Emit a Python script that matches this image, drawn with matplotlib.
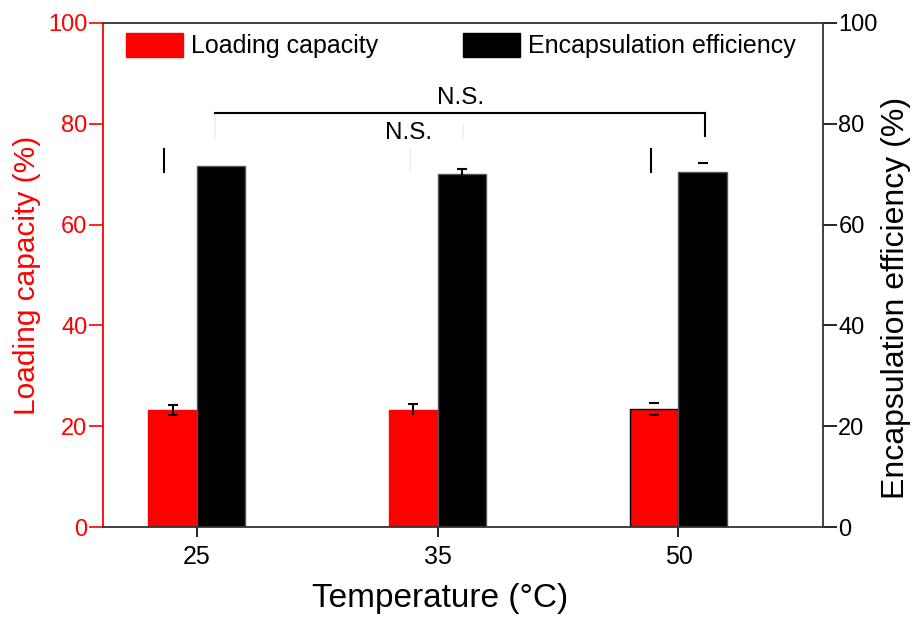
import matplotlib
matplotlib.use('Agg')
import matplotlib.pyplot as plt
import numpy as np
from matplotlib.patches import Patch

plt.rcParams['font.family'] = ['Liberation Sans', 'DejaVu Sans']

categories = ['25', '35', '50']
loading = [23.3, 23.3, 23.5]
loading_err = [1.0, 1.1, 1.2]
encaps = [71.6, 70.0, 70.5]
encaps_err = [0.0, 1.0, 1.8]
series_labels = ['Loading capacity', 'Encapsulation efficiency']
yticks = [0, 20, 40, 60, 80, 100]
sig_label = 'N.S.'

fig = plt.figure(figsize=(9.15, 6.18), dpi=100)
ax = fig.add_axes([0.1122, 0.1472, 0.7873, 0.8156])
x = np.arange(len(categories))
w = 0.2

ax.bar(x - w/2, loading, w, color='red', edgecolor=['red', 'red', 'black'], linewidth=1.0, zorder=2)
ax.bar(x + w/2, encaps, w, color='black', edgecolor='#555555', linewidth=1.0, zorder=2)

# error bars (styled to mimic the reference appearance)
red_show_line = [True, True, False]
red_show_low = [True, False, True]
for i in range(len(x)):
    eb = ax.errorbar(x[i] - w/2, loading[i], yerr=loading_err[i], fmt='none', ecolor='black',
                     elinewidth=1.5, capsize=3.6, capthick=1.5, zorder=3)
    if not red_show_line[i]:
        eb[2][0].set_visible(False)
    if not red_show_low[i]:
        eb[1][0].set_visible(False)
blk_show_line = [True, True, False]
for i in range(len(x)):
    if encaps_err[i] <= 0:
        continue
    eb = ax.errorbar(x[i] + w/2, encaps[i], yerr=encaps_err[i], fmt='none', ecolor='black',
                     elinewidth=1.5, capsize=3.6, capthick=1.5, zorder=3)
    if not blk_show_line[i]:
        eb[2][0].set_visible(False)

ax.set_xlim(-0.39, 2.6)
ax.set_ylim(0, 100)
ax.set_yticks(yticks)
ax.set_xticks(x)
ax.set_xticklabels(categories)
ax.tick_params(axis='y', colors='red', direction='out', length=10, width=1.2, labelsize=17, pad=1)
ax.tick_params(axis='x', colors='black', direction='out', length=7, width=1.2, labelsize=18, pad=6)
ax.spines['left'].set_color('red')
ax.spines['left'].set_linewidth(1.3)
ax.spines['right'].set_visible(False)
ax.spines['top'].set_color('#333333')
ax.spines['top'].set_linewidth(1.3)
ax.spines['bottom'].set_color('#333333')
ax.spines['bottom'].set_linewidth(1.3)
ax.set_ylabel('Loading capacity (%)', color='red', fontsize=21.5)
ax.yaxis.set_label_coords(-0.085, 0.5)
ax.set_xlabel('Temperature (°C)', fontsize=24)
ax.xaxis.set_label_coords(0.468, -0.112)
ax.xaxis.label.set_va('top')

ax2 = ax.twinx()
ax2.set_ylim(0, 100)
ax2.set_yticks(yticks)
ax2.tick_params(axis='y', colors='black', direction='out', length=10, width=1.2, labelsize=17, pad=1)
ax2.spines['right'].set_color('#333333')
ax2.spines['right'].set_linewidth(1.3)
ax2.spines['left'].set_visible(False)
ax2.spines['top'].set_visible(False)
ax2.spines['bottom'].set_visible(False)
ax2.set_ylabel('Encapsulation efficiency (%)', fontsize=23)
ax2.yaxis.set_label_coords(1.08, 0.454)

# significance annotations
lc = 'black'
ax.plot([x[0] + 0.075, x[2] + 0.108], [82.1, 82.1], color=lc, lw=1.5, zorder=4)
ax.plot([x[2] + 0.108, x[2] + 0.108], [82.1, 77.6], color=lc, lw=1.5, zorder=4)
ax.plot([x[0] - 0.137, x[0] - 0.137], [70.4, 75.0], color=lc, lw=1.5, zorder=4)
ax.plot([x[2] - 0.113, x[2] - 0.113], [70.4, 75.0], color=lc, lw=1.5, zorder=4)
fc = '#ececec'
ax.plot([x[0] + 0.075, x[0] + 0.075], [82.1, 77.4], color=fc, lw=1.0, zorder=1)
ax.plot([x[1] + 0.104, x[1] + 0.104], [80.0, 77.4], color=fc, lw=1.0, zorder=1)
ax.plot([x[1] - 0.116, x[1] - 0.116], [75.2, 70.8], color=fc, lw=1.0, zorder=1)
ax.text(x[1] + 0.095, 85.1, sig_label, ha='center', va='center', fontsize=17.5, zorder=5)
ax.text(x[1] - 0.12, 78.2, sig_label, ha='center', va='center', fontsize=17.5, zorder=5)

handles = [Patch(facecolor='red', edgecolor='red'), Patch(facecolor='black', edgecolor='black')]
ax.legend(handles, series_labels, ncol=2, loc='upper left', bbox_to_anchor=(0.032, 0.981),
          frameon=False, fontsize=18, handlelength=2.28, handleheight=1.12, handletextpad=0.32,
          columnspacing=3.4, borderpad=0, borderaxespad=0)

fig.savefig('out.png', dpi=100)
